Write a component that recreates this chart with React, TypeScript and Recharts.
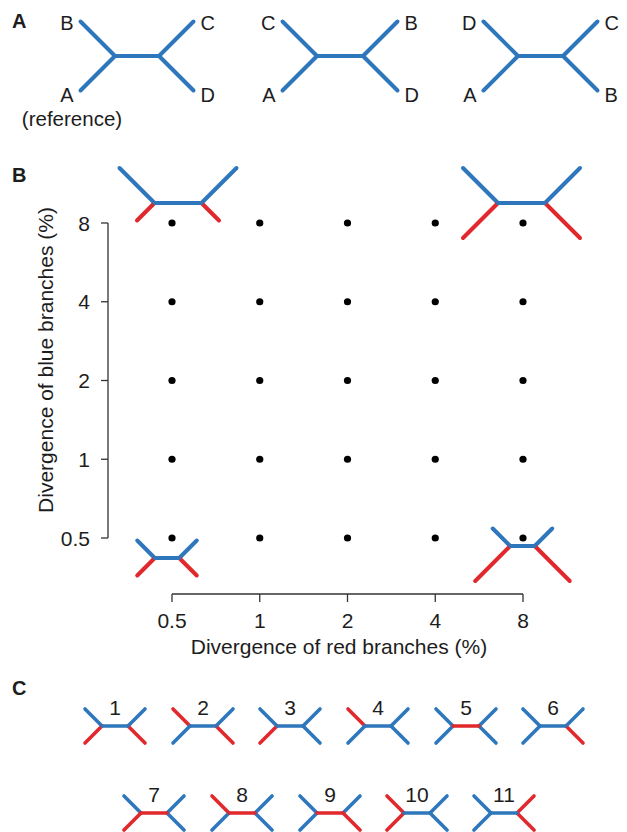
import React from "react";
import { ScatterChart, Scatter, XAxis, YAxis } from "recharts";

// panel B grid: divergence (%) of red and blue branches
const RED_DIVERGENCE = [0.5, 1, 2, 4, 8];
const BLUE_DIVERGENCE = [0.5, 1, 2, 4, 8];
const TICK_LABELS = ["0.5", "1", "2", "4", "8"];

// corner trees in panel B, keyed by the grid point they illustrate
const CORNER_TREES = [
  { x: 0.5, y: 8, ox: 6, oy: -20 },
  { x: 8, y: 8, ox: -1.5, oy: -20 },
  { x: 0.5, y: 0.5, ox: -5, oy: 20 },
  { x: 8, y: 0.5, ox: -0.5, oy: 8 },
];
const LEAF_LEN: Record<number, number> = { 0.5: 17.5, 8: 35 };
const INNER_LEN: Record<number, number> = { 0.5: 24.5, 8: 47 };

// panel A: leaf names, order top-left, bottom-left, top-right, bottom-right
const TOPOLOGIES = [
  ["B", "A", "C", "D"],
  ["C", "A", "B", "D"],
  ["D", "A", "C", "B"],
];

// panel C: branch colours [top-left, bottom-left, internal, top-right, bottom-right]
const C_LABELS = ["1", "2", "3", "4", "5", "6", "7", "8", "9", "10", "11"];
const C_PATTERNS = [
  "brbbr", "rbbbr", "brbbb", "rbbbb", "bbrbb", "bbbbr",
  "brrbb", "rbrbb", "bbrbr", "rrbbb", "bbbrr",
];

const BLUE = "#2e77bc";
const RED = "#e1282d";
const INK = "#1d1d1d";
const FONT = "'Liberation Sans', Arial, Helvetica, sans-serif";

// axes sit detached from the dot grid
const X_SHIFT = 56;
const Y_SHIFT = 64;

const points = BLUE_DIVERGENCE.flatMap((y) =>
  RED_DIVERGENCE.map((x) => ({ x, y }))
);

type TreeProps = {
  cx: number;
  cy: number;
  half: number;
  leaves: number[]; // tl, bl, tr, br
  colors: string[]; // tl, bl, inner, tr, br
  sw: number;
};

function Tree({ cx, cy, half, leaves, colors, sw }: TreeProps) {
  const [tl, bl, tr, br] = leaves;
  const l = cx - half;
  const r = cx + half;
  const segs = [
    [l, cy, l - tl, cy - tl, colors[0]],
    [l, cy, l - bl, cy + bl, colors[1]],
    [r, cy, r + tr, cy - tr, colors[3]],
    [r, cy, r + br, cy + br, colors[4]],
    [l, cy, r, cy, colors[2]],
  ] as [number, number, number, number, string][];
  return (
    <g>
      {segs.map(([x1, y1, x2, y2, c], i) => (
        <line key={i} x1={x1} y1={y1} x2={x2} y2={y2} stroke={c} strokeWidth={sw} strokeLinecap="round" />
      ))}
    </g>
  );
}

function GridDot(props: any) {
  const { cx, cy, payload } = props;
  const corner = CORNER_TREES.find((t) => t.x === payload.x && t.y === payload.y);
  return (
    <g>
      {corner && (
        <Tree
          cx={cx + corner.ox}
          cy={cy + corner.oy}
          half={INNER_LEN[corner.y] / 2}
          leaves={[LEAF_LEN[corner.y], LEAF_LEN[corner.x], LEAF_LEN[corner.y], LEAF_LEN[corner.x]]}
          colors={[BLUE, RED, BLUE, BLUE, RED]}
          sw={4}
        />
      )}
      <circle cx={cx} cy={cy} r={3.6} fill="#000" />
    </g>
  );
}

function XTick({ x, y, index }: any) {
  return (
    <text x={x} y={y + X_SHIFT + 18} textAnchor="middle" dominantBaseline="central" fontSize={21} fontFamily={FONT} fill={INK}>
      {TICK_LABELS[index]}
    </text>
  );
}

function YTick({ x, y, index }: any) {
  return (
    <text x={x - Y_SHIFT} y={y} textAnchor="end" dominantBaseline="central" fontSize={21} fontFamily={FONT} fill={INK}>
      {TICK_LABELS[index]}
    </text>
  );
}

const textStyle = { fontFamily: FONT, fill: INK };

function PanelA() {
  const centers = [137, 340, 540.5];
  const halves = [22, 23, 22.5];
  const leaf = 34.5;
  const cy = 56;
  return (
    <g>
      {TOPOLOGIES.map((names, i) => {
        const cx = centers[i];
        const h = halves[i];
        const lx = cx - h - leaf;
        const rx = cx + h + leaf;
        return (
          <g key={i}>
            <Tree cx={cx} cy={cy} half={h} leaves={[leaf, leaf, leaf, leaf]} colors={[BLUE, BLUE, BLUE, BLUE, BLUE]} sw={4} />
            <text x={lx - 7} y={cy - leaf + 1} textAnchor="end" dominantBaseline="central" fontSize={20} style={textStyle}>{names[0]}</text>
            <text x={lx - 7} y={cy + leaf + 4} textAnchor="end" dominantBaseline="central" fontSize={20} style={textStyle}>{names[1]}</text>
            <text x={rx + 7} y={cy - leaf + 1} textAnchor="start" dominantBaseline="central" fontSize={20} style={textStyle}>{names[2]}</text>
            <text x={rx + 7} y={cy + leaf + 4} textAnchor="start" dominantBaseline="central" fontSize={20} style={textStyle}>{names[3]}</text>
          </g>
        );
      })}
      <text x={72} y={118} textAnchor="middle" dominantBaseline="central" fontSize={20.5} style={textStyle}>(reference)</text>
    </g>
  );
}

function PanelC() {
  const row1 = [115, 203, 290, 378, 466, 553];
  const row2 = [154, 242, 330, 417, 504];
  const pos = [...row1.map((x) => [x, 726]), ...row2.map((x) => [x, 813])];
  return (
    <g>
      {C_PATTERNS.map((p, i) => {
        const [cx, cy] = pos[i];
        const colors = p.split("").map((c) => (c === "r" ? RED : BLUE));
        return (
          <g key={i}>
            <Tree cx={cx} cy={cy} half={13} leaves={[17, 17, 17, 17]} colors={colors} sw={3.6} />
            <text x={cx} y={cy - 18.5} textAnchor="middle" dominantBaseline="central" fontSize={21} style={textStyle}>{C_LABELS[i]}</text>
          </g>
        );
      })}
    </g>
  );
}

export default function App() {
  return (
    <div style={{ position: "relative", width: 627, height: 832, background: "#fff" }}>
      <style>{`
        body { margin: 0; }
        .recharts-xAxis { transform: translate(0px, ${X_SHIFT}px); }
        .recharts-yAxis { transform: translate(-${Y_SHIFT}px, 0px); }
      `}</style>
      <div style={{ position: "absolute", left: 0, top: 0 }}>
        <ScatterChart width={627} height={832} margin={{ top: 223, right: 104, bottom: 238, left: 108 }}>
          <XAxis
            type="number"
            dataKey="x"
            scale="log"
            domain={[0.5, 8]}
            ticks={RED_DIVERGENCE}
            height={56}
            tickSize={8}
            tickMargin={0}
            axisLine={{ stroke: "#333", strokeWidth: 1.3 }}
            tickLine={{ stroke: "#333", strokeWidth: 1.3 }}
            tick={<XTick />}
          />
          <YAxis
            type="number"
            dataKey="y"
            scale="log"
            domain={[0.5, 8]}
            ticks={BLUE_DIVERGENCE}
            width={64}
            tickSize={7}
            tickMargin={11}
            axisLine={{ stroke: "#333", strokeWidth: 1.3 }}
            tickLine={{ stroke: "#333", strokeWidth: 1.3 }}
            tick={<YTick />}
          />
          <Scatter data={points} shape={GridDot} isAnimationActive={false} />
        </ScatterChart>
      </div>
      <svg width={627} height={832} style={{ position: "absolute", left: 0, top: 0, pointerEvents: "none" }}>
        <text x={12} y={28} fontSize={20} fontWeight="bold" style={textStyle}>A</text>
        <text x={12} y={182} fontSize={20} fontWeight="bold" style={textStyle}>B</text>
        <text x={12} y={695} fontSize={20} fontWeight="bold" style={textStyle}>C</text>
        <PanelA />
        <PanelC />
        <text x={339} y={646} textAnchor="middle" dominantBaseline="central" fontSize={21} style={textStyle}>
          Divergence of red branches (%)
        </text>
        <text
          x={45}
          y={360}
          transform="rotate(-90 45 360)"
          textAnchor="middle"
          dominantBaseline="central"
          fontSize={21}
          style={textStyle}
        >
          Divergence of blue branches (%)
        </text>
      </svg>
    </div>
  );
}
